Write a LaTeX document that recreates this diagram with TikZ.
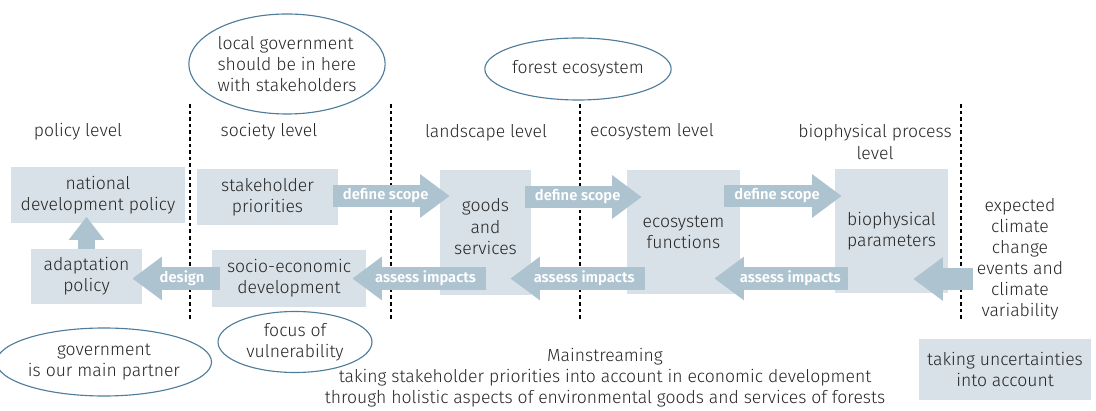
\documentclass[tikz,border=0pt]{standalone}
\usepackage{fontspec}
\setmainfont{Fira Sans}[UprightFont=* Light, BoldFont=* SemiBold]
\usetikzlibrary{positioning, arrows.meta, shapes.geometric, calc}

\definecolor{boxfill}{HTML}{D8E1E8}
\definecolor{flowfill}{HTML}{ADC3D0}
\definecolor{ovalline}{HTML}{4E7C9A}
\newcommand{\px}{0.025cm}

\begin{document}
\begin{tikzpicture}[
    x=0.025cm, y=-0.025cm,
    % Estilos de Nodos
    txt/.style={font=\fontsize{12.5}{15}\selectfont, text=black!85, align=center, inner sep=0pt},
    box/.style 2 args={txt, fill=boxfill, minimum width=#1*\px, minimum height=#2*\px},
    oval/.style 2 args={txt, ellipse, draw=ovalline, line width=0.8pt, minimum width=#1*\px, minimum height=#2*\px},
    flowtext/.style={font=\fontsize{10.5}{12}\selectfont\bfseries, text=white, inner sep=0pt},
    % Estilos de Flechas
    flow/.style={draw=flowfill, line width=0.56cm, -{Triangle[length=0.74cm, width=1.04cm]}},
    upflow/.style={draw=flowfill, line width=0.43cm, -{Triangle[length=0.58cm, width=0.85cm]}},
    divider/.style={draw=black, line width=0.04cm, dash pattern=on 0.09cm off 0.075cm}
]
\useasboundingbox (0,0) rectangle (1096,411);

% --- Niveles ---
\node[txt] (lv_policy) at (78,132) {policy level};
\node[txt] (lv_society) at (269,132) {society level};
\node[txt] (lv_landscape) at (486,133) {landscape level};
\node[txt] (lv_ecosystem) at (652,132) {ecosystem level};
\node[txt] (lv_bio) at (875,142) {biophysical process\\level};

% --- Separadores ---
\foreach \x [count=\i] in {190,391,580,961} {
    \coordinate (div\i_top) at (\x,104);
    \coordinate (div\i_bot) at (\x,319);
    \draw[divider] (div\i_top) -- (div\i_bot);
}

% --- Cajas ---
\node[box={174}{56}] (natpol) at (98,195) {national\\development policy};
\node[box={111}{55}] (adapt) at (86.5,276.5) {adaptation\\policy};
\node[box={141}{56}] (stake) at (267.5,197) {stakeholder\\priorities};
\node[box={154}{57}] (socio) at (289,278.5) {socio-economic\\development};
\node[box={91}{125}, text depth=12*\px] (goods) at (485.5,232.5) {goods\\and\\services};
\node[box={113}{124}] (ecofun) at (683.5,232) {ecosystem\\functions};
\node[box={113}{124}] (biophys) at (891.5,231) {biophysical\\parameters};
\node[box={172}{61}] (uncert) at (1005,369.5) {taking uncertainties\\into account};

% --- Textos ---
\node[txt] (climate) at (1020,259) {expected\\climate\\change\\events and\\climate\\variability};
\node[txt] (mainstream) at (605,378) {Mainstreaming\\taking stakeholder priorities into account in economic development\\through holistic aspects of environmental goods and services of forests};
\coordinate (clim_src) at (973,279);

% --- Elipses ---
\node[oval={190}{100}, align=left] (oval_local) at (287,64) {local government\\should be in here\\with stakeholders};
\node[oval={154}{62}] (oval_forest) at (578,69) {forest ecosystem};
\node[oval={188}{68}] (oval_gov) at (104,362) {government\\is our main partner};
\node[oval={154}{61}] (oval_focus) at (295,342) {focus of\\vulnerability};

% --- Flechas ---
\draw[upflow] (adapt.north) -- ($(adapt.north)+(0,-32)$) coordinate (adapt_up);
\draw[flow] ($(stake.east)+(-5,-1)$) -- ($(stake.east -| goods.west)+(10,-1)$)
    node[flowtext, pos=0.45] {define scope};
\draw[flow] ($(goods.east |- stake.east)+(-6,0)$) -- ($(stake.east -| ecofun.west)+(15,0)$)
    node[flowtext, pos=0.45] {define scope};
\draw[flow] ($(ecofun.east |- stake.east)+(-16,-1)$) -- ($(stake.east -| biophys.west)+(7,-1)$)
    node[flowtext, pos=0.45] {define scope};

\draw[flow] ($(socio.west)+(8,0)$) -- ($(socio.west -| adapt.east)+(-10,0)$)
    node[flowtext, pos=0.43] {design};
\draw[flow] (goods.center |- socio.west) -- ($(socio.east)+(-14,0)$)
    node[flowtext, pos=0.45] {assess impacts};
\draw[flow] ($(ecofun.west |- socio.west)+(18,0)$) -- ($(goods.east |- socio.west)+(-21,0)$)
    node[flowtext, pos=0.45] {assess impacts};
\draw[flow] ($(biophys.west |- socio.west)+(13,0)$) -- ($(ecofun.east |- socio.west)+(-26,0)$)
    node[flowtext, pos=0.43] {assess impacts};
\draw[flow] (clim_src) -- ($(biophys.east |- clim_src)+(-35,0)$);

\end{tikzpicture}
\end{document}
